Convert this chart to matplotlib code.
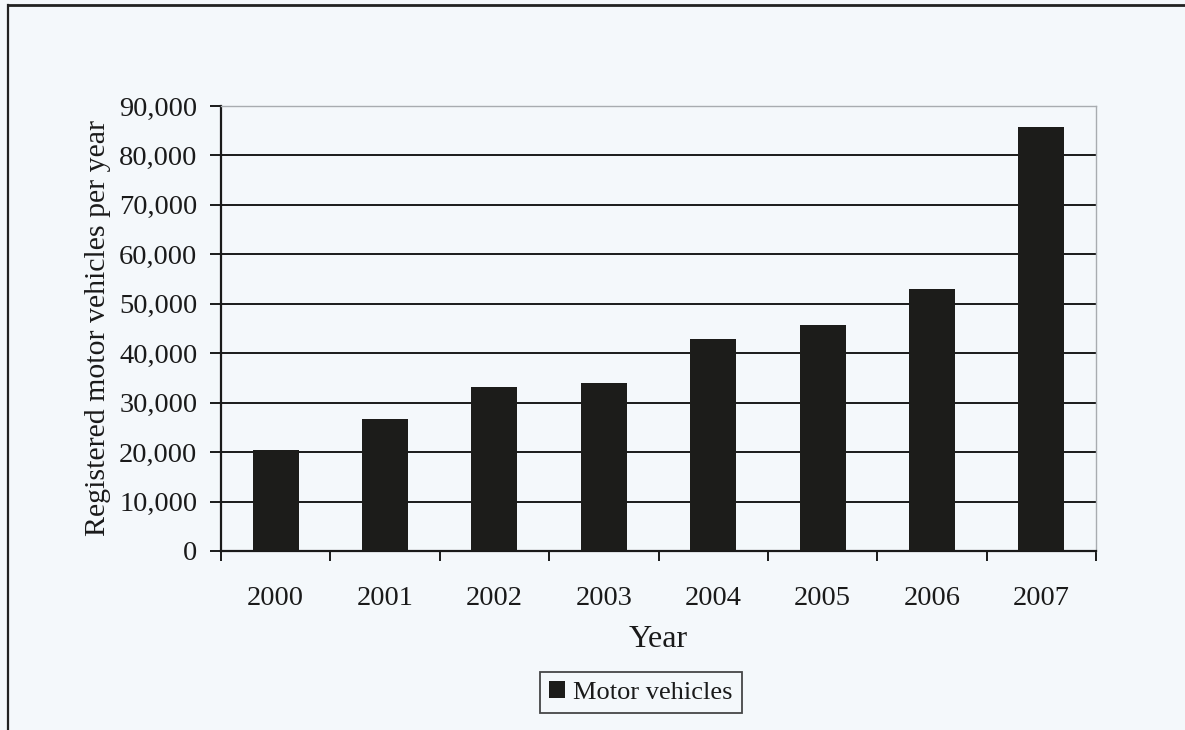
import matplotlib
matplotlib.use("Agg")
import matplotlib.pyplot as plt
from matplotlib.lines import Line2D
from matplotlib.ticker import FuncFormatter, FixedLocator
import numpy as np

years = ["2000", "2001", "2002", "2003", "2004", "2005", "2006", "2007"]
vehicles = [20500, 26600, 33200, 33900, 42800, 45700, 52900, 85800]
series_name = "Motor vehicles"

plt.rcParams['font.family'] = ['Liberation Serif', 'DejaVu Serif']

bg = '#f4f8fb'
fig = plt.figure(figsize=(11.85, 7.3), dpi=100, facecolor=bg)
ax = fig.add_axes([221/1185, 1-551/730, (1096-221)/1185, (551-106)/730])
ax.set_facecolor(bg)

x = np.arange(len(years))
bars = ax.bar(x, vehicles, width=0.42, color='#1c1c1a', label=series_name, zorder=3)

ax.set_xlim(-0.5, len(years) - 0.5)
ax.set_ylim(0, 90000)
ax.set_yticks(np.arange(0, 90001, 10000))
ax.yaxis.set_major_formatter(FuncFormatter(lambda v, p: f"{int(v):,}"))
ax.grid(axis='y', color='#1a1a1a', linewidth=1.4, zorder=1)
ax.set_axisbelow(True)

ax.set_xticks(x)
ax.set_xticklabels(years)
ax.xaxis.set_minor_locator(FixedLocator(np.arange(-0.5, len(years), 1.0)))
ax.tick_params(axis='x', which='major', length=0, pad=25, labelsize=20.5, labelcolor='#1a1a1a')
ax.tick_params(axis='x', which='minor', length=7, width=1.4, direction='out', color='#1a1a1a')
ax.tick_params(axis='y', which='major', length=8, width=1.4, direction='out', pad=9,
               labelsize=20.5, color='#1a1a1a', labelcolor='#1a1a1a')

for s in ['left', 'bottom']:
    ax.spines[s].set_color('#1a1a1a')
    ax.spines[s].set_linewidth(1.6)
for s in ['top', 'right']:
    ax.spines[s].set_color('#a8acb0')
    ax.spines[s].set_linewidth(1.0)

ax.set_xlabel("Year", fontsize=23, labelpad=10, color='#1a1a1a')
ax.set_ylabel("Registered motor vehicles per year", fontsize=21.5, labelpad=6, color='#1a1a1a')

leg = fig.legend(handles=[bars], labels=[series_name], loc='center',
                 bbox_to_anchor=(641/1185, 1-692.5/730), fontsize=19,
                 frameon=True, fancybox=False, edgecolor='#1a1a1a',
                 handlelength=0.6, handleheight=0.6, handletextpad=0.3,
                 borderpad=0.35, borderaxespad=0)
leg.get_frame().set_linewidth(1.3)
leg.get_frame().set_facecolor(bg)
for t in leg.get_texts():
    t.set_color('#1a1a1a')

# figure frame lines (top and left)
fig.add_artist(Line2D([8/1185, 1], [1-5/730, 1-5/730], transform=fig.transFigure,
                      color='#222222', linewidth=2))
fig.add_artist(Line2D([8/1185, 8/1185], [0, 1-5/730], transform=fig.transFigure,
                      color='#222222', linewidth=1.6))

fig.savefig("out.png", dpi=100, facecolor=bg)
